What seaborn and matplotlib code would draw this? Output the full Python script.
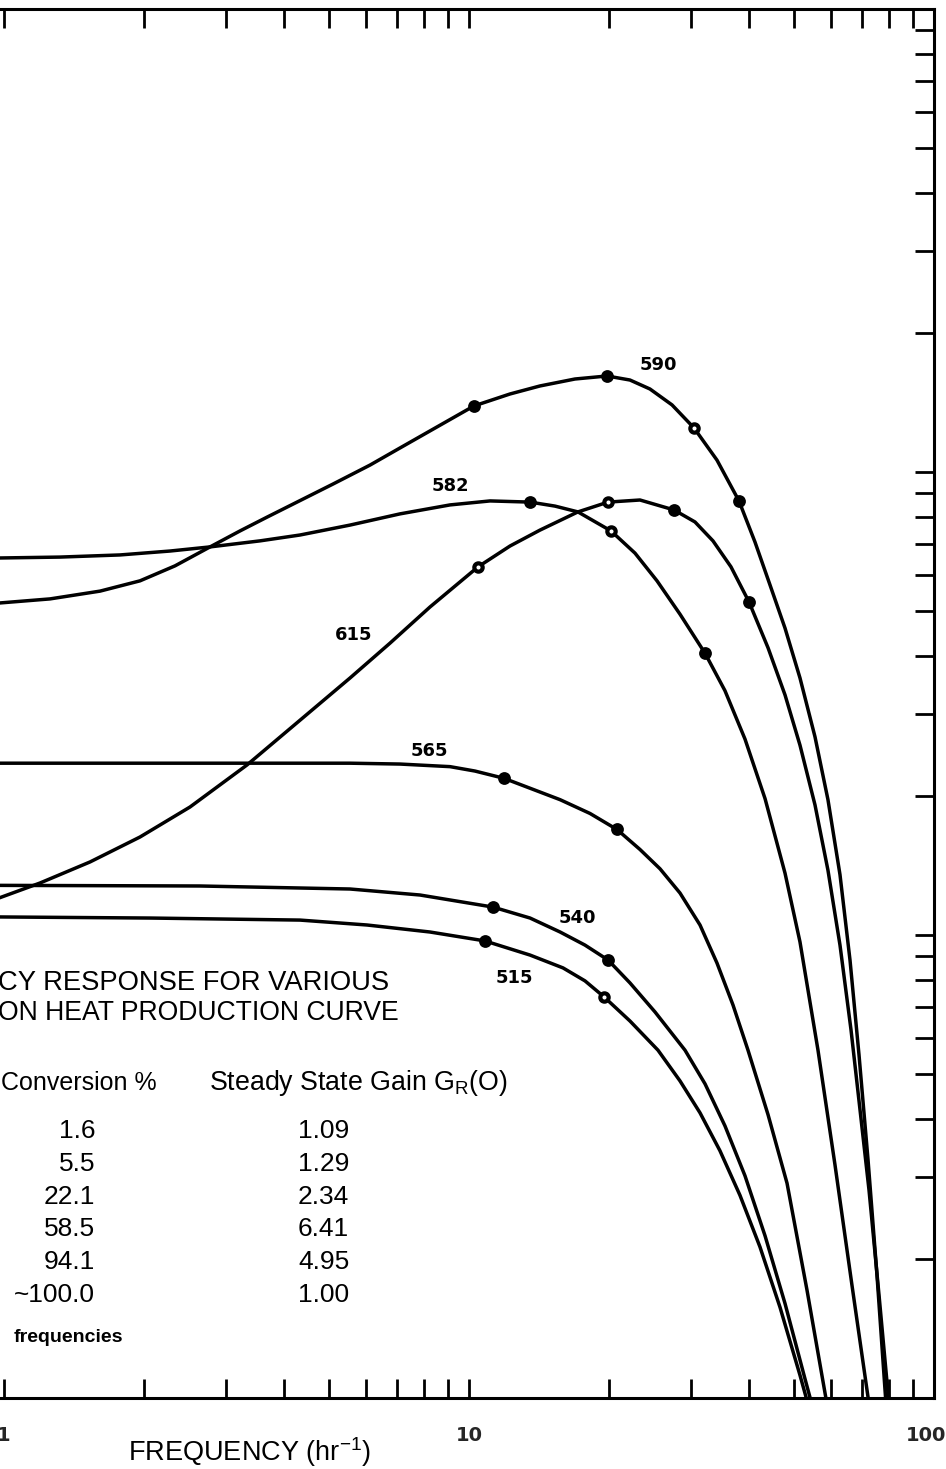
import numpy as np
import pandas as pd
import matplotlib
matplotlib.use("Agg")
import matplotlib.pyplot as plt
import matplotlib.ticker as mticker
from matplotlib.transforms import ScaledTranslation
import seaborn as sns

# ---------------------------------------------------------------------------
# Frequency response curves (frequency in hr^-1, gain G_R), one per reactor
# temperature.  mark: 0 = plain curve point, 1 = filled point, 2 = open point
# ---------------------------------------------------------------------------
freq_590 = [0.971, 1.256, 1.609, 1.961, 2.332, 2.774, 3.218, 3.679, 5.101, 6.125,
            7.106, 10.25, 12.25, 14.21, 16.90, 19.81, 22.19, 24.50, 27.33, 30.47,
            34.14, 38.07, 41.21, 44.40, 47.82, 51.50, 55.47, 59.15, 62.78, 65.97,
            68.98, 72.13, 75.41, 78.85]
gain_590 = [5.21, 5.32, 5.53, 5.82, 6.27, 6.89, 7.46, 7.99, 9.42, 10.35,
            11.27, 13.89, 14.74, 15.34, 15.88, 16.12, 15.80, 15.11, 13.96, 12.45,
            10.61, 8.66, 7.06, 5.70, 4.60, 3.59, 2.68, 1.96, 1.35, 0.883,
            0.551, 0.327, 0.184, 0.097]
mark_590 = [0, 0, 0, 0, 0, 0, 0, 0, 0, 0,
            0, 1, 0, 0, 0, 1, 0, 0, 0, 2,
            0, 1, 0, 0, 0, 0, 0, 0, 0, 0,
            0, 0, 0, 0]

freq_582 = [0.971, 1.319, 1.776, 2.275, 2.774, 3.553, 4.331, 5.548, 7.106, 9.104,
            11.10, 13.53, 15.31, 17.15, 20.20, 22.75, 25.37, 28.43, 32.18, 35.52,
            39.22, 43.32, 47.82, 51.50, 56.30, 61.24, 66.63, 72.49]
gain_582 = [6.52, 6.55, 6.62, 6.75, 6.89, 7.10, 7.31, 7.68, 8.12, 8.49,
            8.66, 8.61, 8.44, 8.20, 7.46, 6.68, 5.82, 4.93, 4.06, 3.37,
            2.65, 1.97, 1.36, 0.966, 0.564, 0.319, 0.175, 0.097]
mark_582 = [0, 0, 0, 0, 0, 0, 0, 0, 0, 0,
            0, 1, 0, 0, 2, 0, 0, 0, 1, 0,
            0, 0, 0, 0, 0, 0, 0, 0]

freq_615 = [0.971, 1.195, 1.531, 1.961, 2.512, 3.332, 4.331, 5.548, 6.764, 8.243,
            10.46, 12.25, 14.21, 17.15, 19.91, 23.32, 27.60, 30.62, 33.47, 36.59,
            40.01, 43.97, 47.82, 51.50, 55.47, 59.15, 62.78, 66.30, 69.33, 72.49,
            76.16, 80.03]
gain_615 = [1.20, 1.295, 1.438, 1.628, 1.89, 2.33, 2.91, 3.59, 4.27, 5.11,
            6.24, 6.92, 7.49, 8.20, 8.61, 8.70, 8.28, 7.80, 7.10, 6.24,
            5.24, 4.17, 3.30, 2.57, 1.91, 1.38, 0.951, 0.624, 0.419, 0.281,
            0.167, 0.097]
mark_615 = [0, 0, 0, 0, 0, 0, 0, 0, 0, 0,
            2, 0, 0, 0, 2, 0, 1, 0, 0, 0,
            1, 0, 0, 0, 0, 0, 0, 0, 0, 0,
            0, 0]

freq_565 = [0.971, 2.639, 5.548, 7.106, 9.104, 10.30, 11.89, 15.70, 18.21, 20.81,
            23.32, 25.75, 28.43, 31.39, 34.14, 36.96, 39.81, 43.97, 48.30, 53.32,
            58.86]
gain_565 = [2.35, 2.35, 2.35, 2.34, 2.31, 2.26, 2.18, 1.96, 1.83, 1.69,
            1.53, 1.39, 1.232, 1.051, 0.870, 0.706, 0.564, 0.409, 0.291, 0.171,
            0.097]
mark_565 = [0, 0, 0, 0, 0, 0, 1, 0, 0, 1,
            0, 0, 0, 0, 0, 0, 0, 0, 0, 0,
            0]

freq_540 = [0.971, 2.639, 5.548, 7.846, 11.26, 13.53, 15.70, 17.76, 19.91, 22.19,
            25.12, 29.14, 32.18, 35.52, 39.22, 43.32, 47.82, 52.79, 54.38]
gain_540 = [1.28, 1.276, 1.257, 1.22, 1.149, 1.088, 1.015, 0.951, 0.883, 0.788,
            0.682, 0.564, 0.477, 0.387, 0.302, 0.224, 0.160, 0.110, 0.0985]
mark_540 = [0, 0, 0, 0, 1, 0, 0, 0, 1, 0,
            0, 0, 0, 0, 0, 0, 0, 0, 0]

freq_515 = [0.971, 2.061, 4.331, 6.035, 8.243, 10.82, 13.53, 15.93, 17.76, 19.52,
            22.19, 25.49, 28.43, 31.39, 34.65, 38.26, 42.24, 46.65, 51.50, 53.58]
gain_515 = [1.094, 1.088, 1.077, 1.051, 1.015, 0.971, 0.905, 0.849, 0.796, 0.735,
            0.652, 0.564, 0.484, 0.413, 0.342, 0.274, 0.212, 0.157, 0.112, 0.097]
mark_515 = [0, 0, 0, 0, 0, 1, 0, 0, 0, 2,
            0, 0, 0, 0, 0, 0, 0, 0, 0, 0]

# Table of operating points (rows in order of increasing temperature)
conversion = ["1.6", "5.5", "22.1", "58.5", "94.1", "~100.0"]
steady_gain = ["1.09", "1.29", "2.34", "6.41", "4.95", "1.00"]

x_ticks = [0.1, 1, 10, 100]
x_tick_labels = ["", "1", "10", "100"]

curves = {
    "590": (freq_590, gain_590, mark_590),
    "582": (freq_582, gain_582, mark_582),
    "615": (freq_615, gain_615, mark_615),
    "565": (freq_565, gain_565, mark_565),
    "540": (freq_540, gain_540, mark_540),
    "515": (freq_515, gain_515, mark_515),
}

frames = []
for name, (f, g, m) in curves.items():
    frames.append(pd.DataFrame({"temp": name, "freq": f, "gain": g, "mark": m}))
df = pd.concat(frames, ignore_index=True)

# Curve label anchors (freq, gain)
label_pos = {
    "590": (25.5, 17.0),
    "582": (9.10, 9.33),
    "615": (5.66, 4.45),
    "565": (8.20, 2.50),
    "540": (17.07, 1.088),
    "515": (12.5, 0.807),
}

# ---------------------------------------------------------------------------
sns.set_theme(style="white")
plt.rcParams["font.family"] = ["Liberation Sans", "DejaVu Sans"]
plt.rcParams["mathtext.default"] = "regular"

W, H = 946, 1469
fig = plt.figure(figsize=(W / 100, H / 100), dpi=100)
fig.patch.set_facecolor("white")
ax = fig.add_axes([-461 / W, 71 / H, 1395 / W, 1389 / H])
ax.set_facecolor("white")
ax.set_xscale("log")
ax.set_yscale("log")
ax.set_xlim(0.1, 100)
ax.set_ylim(0.1, 100)

for name in curves:
    sub = df[df["temp"] == name]
    sns.lineplot(data=sub, x="freq", y="gain", ax=ax, color="black",
                 linewidth=2.5, sort=False, estimator=None, legend=False)

filled = df[df["mark"] == 1]
opened = df[df["mark"] == 2]
sns.scatterplot(data=filled, x="freq", y="gain", ax=ax, color="black",
                s=85, linewidth=0, zorder=5, legend=False)
sns.scatterplot(data=opened, x="freq", y="gain", ax=ax, facecolor="white",
                edgecolor="black", s=36, linewidth=3.0, zorder=5, legend=False)

for name, (fx_, gy_) in label_pos.items():
    ax.text(fx_, gy_, name, ha="center", va="center", fontsize=13,
            fontweight="bold", family="DejaVu Sans", color="black")

# Axes frame and ticks
for sp in ax.spines.values():
    sp.set_linewidth(2.2)
    sp.set_color("black")
ax.xaxis.set_minor_locator(mticker.LogLocator(base=10, subs=np.arange(2, 10), numticks=100))
ax.yaxis.set_minor_locator(mticker.LogLocator(base=10, subs=np.arange(2, 10), numticks=100))
ax.set_xticks(x_ticks)
ax.set_xticklabels(x_tick_labels, fontweight="bold", fontsize=14, family="DejaVu Sans")
ax.xaxis.set_minor_formatter(mticker.NullFormatter())
ax.yaxis.set_major_formatter(mticker.NullFormatter())
ax.yaxis.set_minor_formatter(mticker.NullFormatter())
ax.tick_params(which="both", direction="in", length=14, width=2.0, color="black",
               top=True, bottom=True, left=True, right=True)
ax.tick_params(axis="x", which="major", pad=20)
ax.set_xlabel("")
ax.set_ylabel("")
last = ax.get_xticklabels()[-1]
last.set_transform(last.get_transform() + ScaledTranslation(-0.08, 0, fig.dpi_scale_trans))


def fx(px):
    return px / W


def fy(py):
    return 1 - py / H


fig.text(fx(250), fy(1452), "FREQUENCY (hr$^{-1}$)", ha="center", va="center",
         fontsize=19.5, color="black")

# Caption and table
fig.text(fx(389), fy(983), "CY RESPONSE FOR VARIOUS", ha="right", va="center",
         fontsize=19.7, color="black")
fig.text(fx(399), fy(1013), "ON HEAT PRODUCTION CURVE", ha="right",
         va="center", fontsize=19.2, color="black")
fig.text(fx(157), fy(1083), "Conversion %", ha="right", va="center",
         fontsize=18, color="black")
fig.text(fx(209), fy(1083), "Steady State Gain G$_{R}$(O)", ha="left", va="center",
         fontsize=19.3, color="black")
row_y = [1131, 1164, 1197, 1229, 1262, 1295]
for c, g, yy in zip(conversion, steady_gain, row_y):
    fig.text(fx(95), fy(yy), c, ha="right", va="center", fontsize=19, color="black")
    fig.text(fx(298), fy(yy), g, ha="left", va="center", fontsize=19, color="black")
fig.text(fx(123), fy(1338), "frequencies", ha="right",
         va="center", fontsize=14, fontweight="bold", color="black")

fig.savefig("out.png", dpi=100, facecolor="white")
